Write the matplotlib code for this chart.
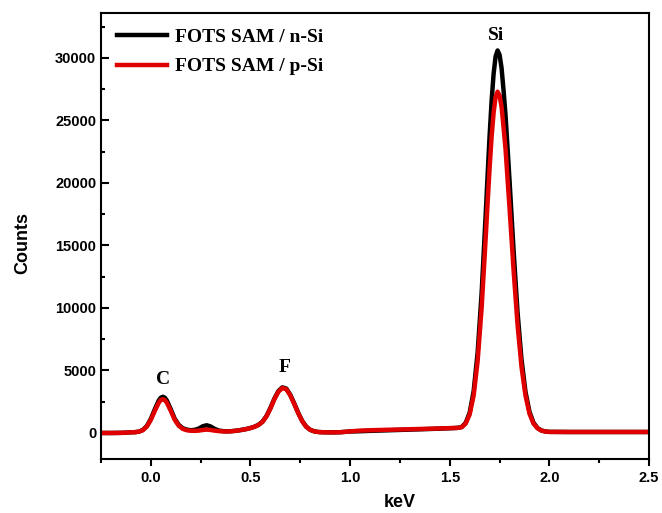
import matplotlib
matplotlib.use("Agg")
import matplotlib.pyplot as plt
from matplotlib.ticker import MultipleLocator

# Energy axis (keV)
energy = [-0.25, -0.20, -0.15, -0.12, -0.10, -0.08, -0.06, -0.04, -0.02, 0.00,
          0.02, 0.04, 0.05, 0.06, 0.07, 0.08, 0.10, 0.12, 0.14, 0.16, 0.18, 0.20,
          0.22, 0.24, 0.26, 0.28, 0.30, 0.32, 0.34, 0.36, 0.38, 0.40,
          0.42, 0.44, 0.46, 0.48, 0.50, 0.52, 0.54, 0.56, 0.58, 0.60,
          0.62, 0.64, 0.66, 0.68, 0.70, 0.72, 0.74, 0.76, 0.78, 0.80,
          0.82, 0.84, 0.86, 0.90, 0.95, 1.00, 1.05, 1.10, 1.20, 1.30,
          1.40, 1.50, 1.52, 1.54, 1.56, 1.58, 1.60, 1.62, 1.64, 1.66,
          1.68, 1.69, 1.70, 1.71, 1.72, 1.73, 1.74, 1.75, 1.76, 1.77,
          1.78, 1.79, 1.80, 1.82, 1.84, 1.86,
          1.88, 1.90, 1.92, 1.94, 1.96, 1.98, 2.00, 2.10, 2.20, 2.30,
          2.40, 2.50]

# FOTS SAM / n-Si counts
counts_n = [0, 0, 10, 30, 55, 65, 110, 240, 555, 1130,
            1900, 2610, 2820, 2900, 2820, 2610, 1900, 1130, 650, 380, 270, 220,
            250, 350, 530, 620, 520, 330, 200, 150, 130, 140,
            170, 210, 260, 320, 400, 500, 650, 900, 1350, 2000,
            2750, 3350, 3650, 3550, 3050, 2350, 1600, 950, 500, 250,
            130, 80, 60, 50, 60, 120, 140, 170, 220, 270,
            320, 380, 390, 410, 480, 810, 1630, 3350, 6450, 11200,
            17360, 20640, 23780, 26540, 28720, 30120, 30600, 30250, 29200, 27410,
            25400, 22820, 20200, 14700, 9700, 5900,
            3300, 1700, 830, 400, 200, 120, 90, 80, 80, 80,
            80, 80]

# FOTS SAM / p-Si counts
counts_p = [0, 0, 10, 30, 55, 62, 105, 225, 520, 1050,
            1770, 2430, 2640, 2700, 2640, 2430, 1770, 1050, 580, 330, 220, 180,
            170, 190, 240, 270, 240, 190, 150, 130, 120, 135,
            165, 205, 255, 315, 395, 495, 640, 880, 1320, 1950,
            2700, 3300, 3600, 3500, 3000, 2300, 1570, 930, 490, 250,
            130, 80, 60, 50, 60, 130, 190, 220, 260, 300,
            340, 390, 400, 410, 460, 760, 1480, 3010, 5770, 10000,
            15500, 18420, 21200, 23680, 25600, 26870, 27300, 27000, 26100, 24450,
            22700, 20340, 18000, 13100, 8700, 5300,
            3000, 1550, 760, 380, 190, 115, 85, 80, 80, 80,
            80, 80]

series_labels = ["FOTS SAM / n-Si", "FOTS SAM / p-Si"]
peak_names = ["C", "F", "Si"]
peak_x = [0.06, 0.67, 1.73]
peak_y = [4300, 5200, 31800]

fig = plt.figure(figsize=(6.62, 5.13), dpi=100)
ax = fig.add_axes([0.1526, 0.1053, 0.8278, 0.8694])

ax.plot(energy, counts_n, color="black", lw=3.2, label=series_labels[0],
        solid_joinstyle="round")
ax.plot(energy, counts_p, color="#e00000", lw=3.2, label=series_labels[1],
        solid_joinstyle="round")

ax.set_xlim(-0.25, 2.5)
ax.set_ylim(-2080, 33600)
ax.xaxis.set_major_locator(MultipleLocator(0.5))
ax.xaxis.set_minor_locator(MultipleLocator(0.25))
ax.yaxis.set_major_locator(MultipleLocator(5000))
ax.yaxis.set_minor_locator(MultipleLocator(2500))

for s in ax.spines.values():
    s.set_linewidth(1.5)

ax.tick_params(axis="x", which="major", direction="out", length=5, width=1.5)
ax.tick_params(axis="x", which="minor", direction="out", length=3, width=1.5)
ax.tick_params(axis="y", which="major", direction="in", length=6, width=1.5)
ax.tick_params(axis="y", which="minor", direction="in", length=3, width=1.5)

for lab in ax.get_xticklabels() + ax.get_yticklabels():
    lab.set_fontfamily("Liberation Sans")
    lab.set_fontweight("bold")
    lab.set_fontsize(10.5)

ax.set_xlabel("keV", fontfamily="Liberation Sans", fontweight="bold", fontsize=13)
ax.set_ylabel("Counts", fontfamily="Liberation Sans", fontweight="bold", fontsize=13)
ax.xaxis.set_label_coords(0.545, -0.078)
ax.yaxis.set_label_coords(-0.128, 0.485)

for name, px, py in zip(peak_names, peak_x, peak_y):
    ax.text(px, py, name, ha="center", va="center",
            fontfamily="Liberation Serif", fontweight="bold", fontsize=14)

leg = ax.legend(loc="upper left", bbox_to_anchor=(0.0, 1.0), frameon=False,
                handlelength=2.6, handletextpad=0.4, labelspacing=0.6,
                borderaxespad=0.4,
                prop={"family": "Liberation Serif", "weight": "bold", "size": 14})

fig.savefig("out.png", dpi=100)
